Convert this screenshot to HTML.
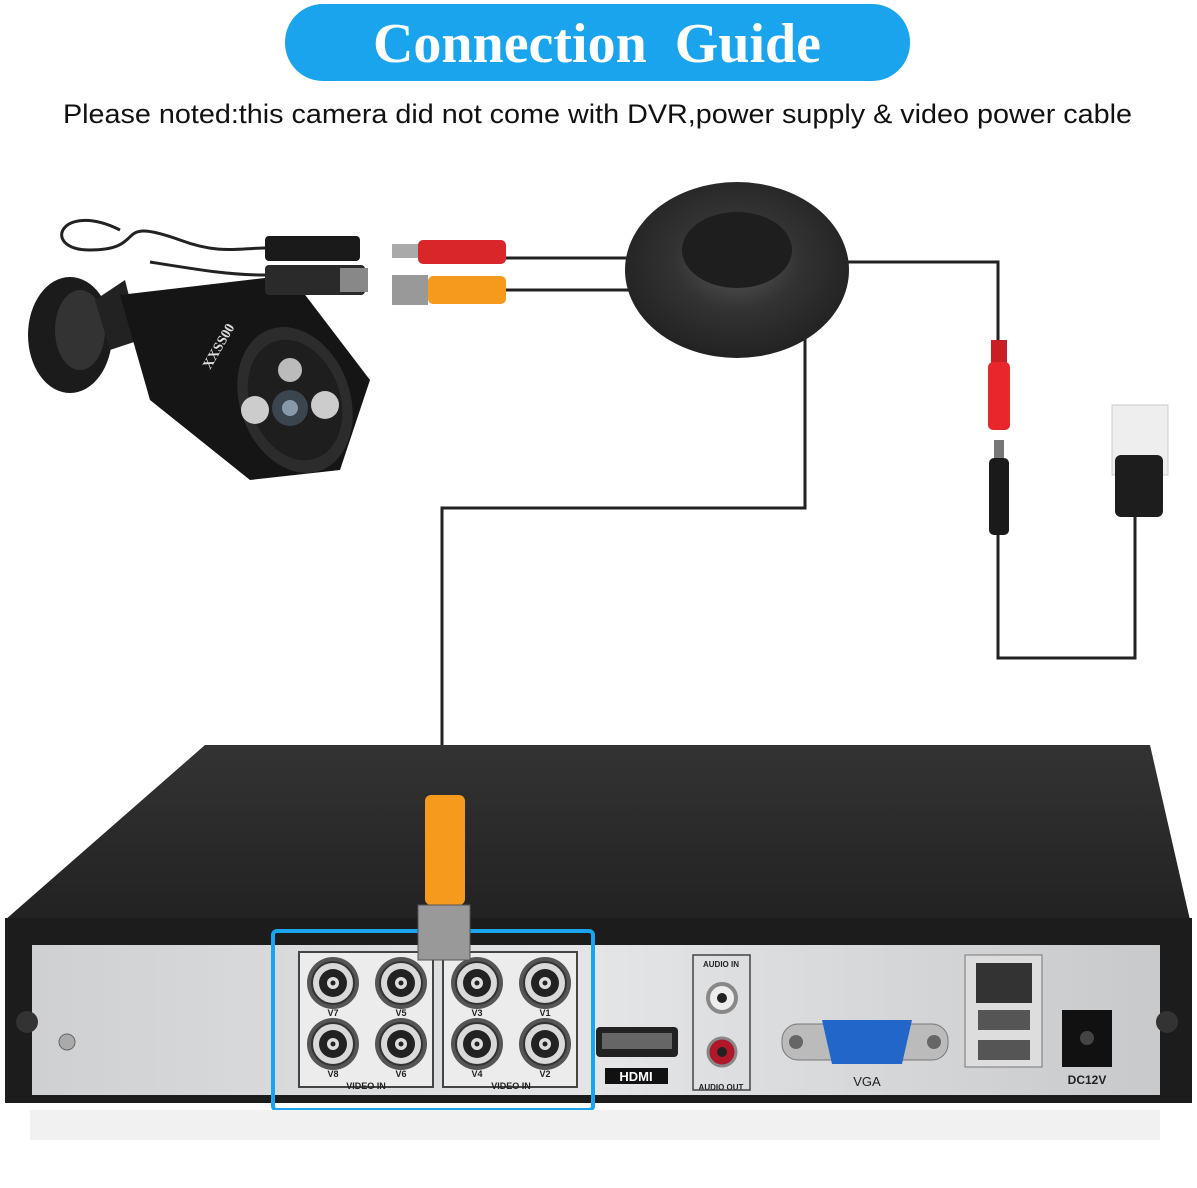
<!DOCTYPE html>
<html><head><meta charset="utf-8"><style>
body{margin:0;background:#fff;width:1197px;height:1183px;overflow:hidden;font-family:"Liberation Sans",sans-serif}
</style></head><body>
<svg width="1197" height="1183" viewBox="0 0 1197 1183" xmlns="http://www.w3.org/2000/svg">
<defs>
<linearGradient id="top" x1="0" y1="0" x2="0" y2="1"><stop offset="0" stop-color="#333"/><stop offset="1" stop-color="#222"/></linearGradient>
<linearGradient id="panel" x1="0" y1="0" x2="1" y2="0"><stop offset="0" stop-color="#cfd0d2"/><stop offset="0.5" stop-color="#e4e5e7"/><stop offset="1" stop-color="#c8c9cb"/></linearGradient>
<radialGradient id="coil" cx="0.5" cy="0.45" r="0.55"><stop offset="0" stop-color="#5a5a5a"/><stop offset="0.5" stop-color="#333"/><stop offset="1" stop-color="#222"/></radialGradient>
<g id="bnc"><circle r="26" fill="#555"/><circle r="21" fill="#d9d9d9" stroke="#333" stroke-width="2"/><circle r="14" fill="#222"/><circle r="6" fill="#ddd"/><circle r="2.5" fill="#222"/></g>
</defs>
<rect x="285" y="4" width="625" height="77" rx="38" fill="#1ba4ee"/>
<text x="597" y="62" text-anchor="middle" font-family="Liberation Serif,serif" font-weight="bold" font-size="56" fill="#fff" xml:space="preserve">Connection  Guide</text>
<text x="63" y="123" textLength="1069" lengthAdjust="spacingAndGlyphs" font-size="27" fill="#111">Please noted:this camera did not come with DVR,power supply &amp; video power cable</text>

<g fill="none" stroke="#222" stroke-width="3">
<path d="M848 262 H998 V340"/>
<path d="M998 535 V658 H1135 V515"/>
<path d="M805 330 V508 H442 V795"/>
<path d="M505 258 H630 M505 290 H630"/>
<path d="M120 230 C60 200 40 250 90 250 C150 250 110 215 180 240 C220 255 240 248 265 248 M150 262 C200 270 230 275 265 275"/>
</g>

<g>
<ellipse cx="70" cy="335" rx="42" ry="58" fill="#1b1b1b"/>
<ellipse cx="80" cy="330" rx="25" ry="40" fill="#333"/>
<path d="M95 300 L125 280 L140 340 L110 350Z" fill="#222"/>
<path d="M120 295 L290 275 L370 380 L340 470 L250 480 L150 400Z" fill="#151515"/>
<ellipse cx="295" cy="400" rx="55" ry="75" fill="#2c2c2c" transform="rotate(-20 295 400)"/>
<ellipse cx="295" cy="400" rx="45" ry="62" fill="#1e1e1e" transform="rotate(-20 295 400)"/>
<circle cx="255" cy="410" r="14" fill="#ccc"/><circle cx="325" cy="405" r="14" fill="#ccc"/><circle cx="290" cy="370" r="12" fill="#bbb"/>
<circle cx="290" cy="408" r="18" fill="#3a4550"/><circle cx="290" cy="408" r="8" fill="#8899aa"/>
<text x="210" y="370" font-size="14" font-weight="bold" fill="#ddd" font-family="Liberation Serif,serif" transform="rotate(-60 210 370)">XXSS00</text>
<rect x="265" y="236" width="95" height="25" rx="4" fill="#1a1a1a"/>
<rect x="265" y="265" width="100" height="30" rx="4" fill="#2a2a2a"/>
<rect x="340" y="268" width="28" height="24" fill="#888"/>
</g>
<rect x="392" y="244" width="28" height="14" fill="#aaa"/>
<rect x="418" y="240" width="88" height="24" rx="5" fill="#d8262b"/>
<rect x="392" y="275" width="36" height="30" fill="#999"/>
<rect x="428" y="276" width="78" height="28" rx="5" fill="#f59a1d"/>
<ellipse cx="737" cy="270" rx="112" ry="88" fill="url(#coil)"/>
<ellipse cx="737" cy="250" rx="55" ry="38" fill="#1e1e1e"/>
<rect x="991" y="340" width="16" height="25" fill="#c81e24"/>
<rect x="988" y="362" width="22" height="68" rx="5" fill="#e8262c"/>
<rect x="994" y="440" width="10" height="20" fill="#777"/>
<rect x="989" y="458" width="20" height="77" rx="5" fill="#1a1a1a"/>
<rect x="1112" y="405" width="56" height="70" fill="#eee" stroke="#ccc"/>
<rect x="1115" y="455" width="48" height="62" rx="6" fill="#1d1d1d"/>

<path d="M5 920 L205 745 L1150 745 L1190 920Z" fill="url(#top)"/>
<rect x="5" y="918" width="1187" height="185" fill="#1c1c1c"/>
<rect x="32" y="945" width="1128" height="150" fill="url(#panel)"/>
<circle cx="27" cy="1022" r="11" fill="#333"/><circle cx="1167" cy="1022" r="11" fill="#333"/>
<circle cx="67" cy="1042" r="8" fill="#aaa" stroke="#666"/>
<rect x="299" y="952" width="134" height="135" fill="#ececec" stroke="#444" stroke-width="2"/>
<rect x="443" y="952" width="134" height="135" fill="#ececec" stroke="#444" stroke-width="2"/>
<use href="#bnc" x="333" y="983"/><use href="#bnc" x="401" y="983"/><use href="#bnc" x="333" y="1044"/><use href="#bnc" x="401" y="1044"/>
<use href="#bnc" x="477" y="983"/><use href="#bnc" x="545" y="983"/><use href="#bnc" x="477" y="1044"/><use href="#bnc" x="545" y="1044"/>
<g font-size="9" font-weight="bold" fill="#222" text-anchor="middle">
<text x="333" y="1016">V7</text><text x="401" y="1016">V5</text><text x="477" y="1016">V3</text><text x="545" y="1016">V1</text>
<text x="333" y="1077">V8</text><text x="401" y="1077">V6</text><text x="477" y="1077">V4</text><text x="545" y="1077">V2</text>
<text x="366" y="1089">VIDEO IN</text><text x="511" y="1089">VIDEO IN</text>
<text x="721" y="967" font-size="8">AUDIO IN</text><text x="721" y="1090" font-size="8">AUDIO OUT</text>
</g>
<rect x="273" y="931" width="320" height="179" fill="none" stroke="#1ba4ee" stroke-width="4" rx="4"/>
<rect x="596" y="1027" width="82" height="30" rx="4" fill="#222"/><rect x="602" y="1033" width="70" height="16" fill="#666"/>
<rect x="605" y="1068" width="63" height="16" fill="#111"/><text x="636" y="1081" font-size="13" font-weight="bold" fill="#fff" text-anchor="middle">HDMI</text>
<rect x="693" y="955" width="57" height="135" fill="none" stroke="#444" stroke-width="1.5"/>
<circle cx="722" cy="998" r="14" fill="#eee" stroke="#888" stroke-width="4"/><circle cx="722" cy="998" r="5" fill="#222"/>
<circle cx="722" cy="1052" r="14" fill="#b0182a" stroke="#888" stroke-width="3"/><circle cx="722" cy="1052" r="5" fill="#222"/>
<rect x="782" y="1024" width="166" height="36" rx="16" fill="#bbb" stroke="#777"/>
<path d="M822 1020 H912 L902 1064 H832Z" fill="#2366c9"/>
<circle cx="796" cy="1042" r="7" fill="#666"/><circle cx="934" cy="1042" r="7" fill="#666"/>
<text x="867" y="1086" font-size="13" text-anchor="middle" fill="#222">VGA</text>
<rect x="965" y="955" width="77" height="112" fill="#ddd" stroke="#777"/>
<rect x="976" y="963" width="56" height="40" fill="#333"/>
<rect x="978" y="1010" width="52" height="20" fill="#555"/><rect x="978" y="1040" width="52" height="20" fill="#555"/>
<rect x="1062" y="1010" width="50" height="57" fill="#111"/><circle cx="1087" cy="1038" r="7" fill="#444"/>
<text x="1087" y="1084" font-size="12" font-weight="bold" text-anchor="middle" fill="#222">DC12V</text>
<rect x="425" y="795" width="40" height="110" rx="6" fill="#f59a1d"/>
<rect x="418" y="905" width="52" height="55" fill="#999" stroke="#555"/>
<rect x="30" y="1110" width="1130" height="30" fill="#f1f1f1"/>
</svg>
</body></html>
